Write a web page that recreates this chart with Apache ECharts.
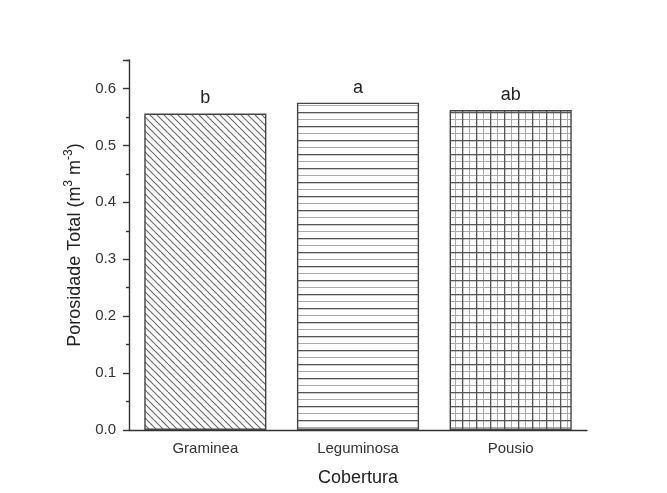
<!DOCTYPE html>
<html>
<head>
<meta charset="utf-8">
<script src="https://cdn.jsdelivr.net/npm/echarts@6/dist/echarts.min.js"></script>
<style>html,body{margin:0;padding:0;background:#fff}#c{width:667px;height:493px}</style>
</head>
<body>
<div id="c"></div>
<script>
var categories = ['Graminea', 'Leguminosa', 'Pousio'];
var values = [0.556, 0.575, 0.562];
var letters = ['b', 'a', 'ab'];
var yTicks = [0.0, 0.1, 0.2, 0.3, 0.4, 0.5, 0.6];

function mk(w, h, draw) {
  var c = document.createElement('canvas');
  c.width = w; c.height = h;
  var g = c.getContext('2d');
  g.fillStyle = '#fff'; g.fillRect(0, 0, w, h);
  draw(g);
  return c;
}
var diag = mk(14, 14, function (g) {
  g.strokeStyle = '#666'; g.lineWidth = 1.1;
  for (var k = -28; k <= 28; k += 7) {
    g.beginPath(); g.moveTo(k, 0); g.lineTo(k + 14, 14); g.stroke();
  }
});
var horiz = mk(8, 14, function (g) {
  g.fillStyle = '#555'; g.fillRect(0, 0, 8, 1.3);
  g.fillStyle = '#aaa'; g.fillRect(0, 7, 8, 1);
});
var grid = mk(14, 14, function (g) {
  g.fillStyle = '#aaa'; g.fillRect(0, 7, 14, 1); g.fillRect(7, 0, 1, 14);
  g.fillStyle = '#555'; g.fillRect(0, 0, 14, 1.3); g.fillRect(0, 0, 1.3, 14);
});
var patterns = [diag, horiz, grid];

var chart = echarts.init(document.getElementById('c'));
var font = 'Liberation Sans, Arial, sans-serif';
chart.setOption({
  animation: false,
  grid: { left: 129, right: 80, top: 60, bottom: 63 },
  xAxis: [{
    type: 'category', data: categories, position: 'bottom',
    axisLine: { lineStyle: { color: '#333', width: 1.4 } },
    axisTick: { alignWithLabel: true, length: 6, lineStyle: { color: '#333', width: 1.4 } },
    axisLabel: { fontFamily: font, fontSize: 15, color: '#333', margin: 11 },
    name: 'Cobertura', nameLocation: 'middle', nameGap: 39,
    nameTextStyle: { fontFamily: font, fontSize: 18, color: '#222' }
  }, {
    type: 'category', data: categories, position: 'bottom',
    axisLine: { show: false },
    axisTick: { length: 3, lineStyle: { color: '#333', width: 1.4 } },
    axisLabel: { show: false }
  }],
  yAxis: {
    type: 'value', min: 0, max: 0.65, interval: 0.1,
    axisLine: { show: true, lineStyle: { color: '#333', width: 1.4 } },
    axisTick: { show: true, length: 6, lineStyle: { color: '#333', width: 1.4 } },
    minorTick: { show: true, splitNumber: 2, length: 3, lineStyle: { color: '#333', width: 1.4 } },
    splitLine: { show: false },
    axisLabel: {
      fontFamily: font, fontSize: 15, color: '#333', margin: 13,
      formatter: function (v) { return Math.abs(v*10-Math.round(v*10))<1e-6 ? v.toFixed(1) : ''; }
    },
    name: '{n|Porosidade Total (m}{s|3}{n| m}{s|-3}{n|)}', nameLocation: 'middle', nameGap: 42,
    nameTextStyle: {
      fontFamily: font, fontSize: 18, color: '#222',
      rich: {
        n: { fontFamily: font, fontSize: 18, color: '#222', lineHeight: 22, verticalAlign: 'bottom' },
        s: { fontFamily: font, fontSize: 12, color: '#222', lineHeight: 22, verticalAlign: 'top' }
      }
    }
  },
  series: [{
    type: 'bar', barWidth: '80%', xAxisIndex: 0,
    data: values.map(function (v, i) {
      return {
        value: v,
        itemStyle: { color: { image: patterns[i], repeat: 'repeat' }, borderColor: '#444', borderWidth: 1.4 },
        label: { formatter: letters[i] }
      };
    }),
    label: { show: true, position: 'top', distance: 6, fontFamily: font, fontSize: 18, color: '#222' }
  }]
});
</script>
</body>
</html>
